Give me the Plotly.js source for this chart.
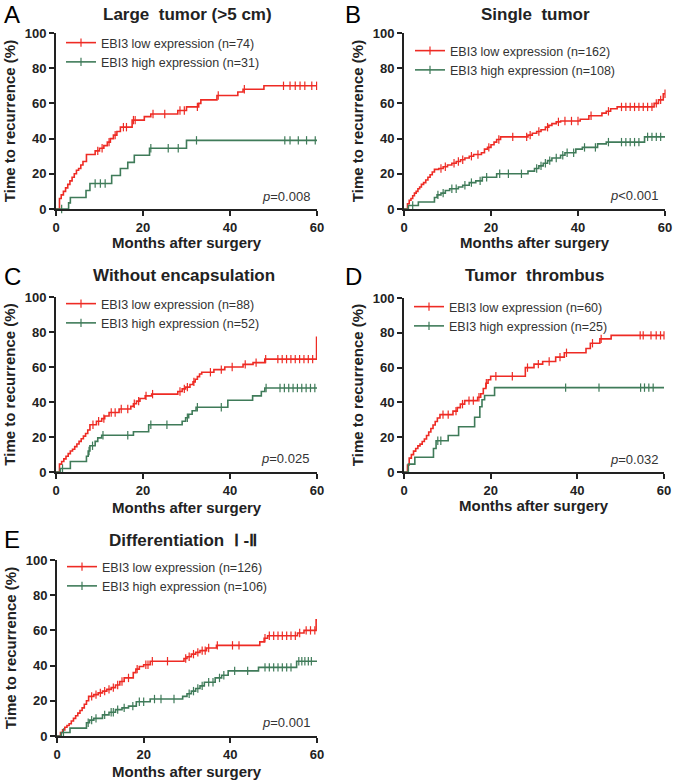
<!DOCTYPE html>
<html><head><meta charset="utf-8">
<script src="https://cdn.plot.ly/plotly-3.0.1.min.js"></script>
<style>body{margin:0;background:#fff}</style>
</head><body><div id="chart" style="width:677px;height:781px"></div>
<script>
// ---------------- DATA (months, cumulative recurrence %) ----------------
const panelLetters = ['A', 'B', 'C', 'D', 'E'];
const panelTitles = ['Large\u00a0 tumor (>5 cm)', 'Single\u00a0 tumor', 'Without encapsulation', 'Tumor\u00a0 thrombus', 'Differentiation\u00a0 \u2160 -\u2161'];
const pValues = ['<i>p</i>=0.008', '<i>p</i><0.001', '<i>p</i>=0.025', '<i>p</i>=0.032', '<i>p</i>=0.001'];
const lowNames = ['EBI3 low expression (n=74)', 'EBI3 low expression (n=162)', 'EBI3 low expression (n=88)', 'EBI3 low expression (n=60)', 'EBI3 low expression (n=126)'];
const highNames = ['EBI3 high expression (n=31)', 'EBI3 high expression (n=108)', 'EBI3 high expression (n=52)', 'EBI3 high expression (n=25)', 'EBI3 high expression (n=106)'];
const xAxisTitle = 'Months after surgery';
const yAxisTitle = 'Time to recurrence (%)';
const xTicks = [0, 20, 40, 60];
const yTicks = [0, 20, 40, 60, 80, 100];

// Panel A
const A_low_t = [0, 0.8, 1.2, 1.7, 2.2, 2.7, 3.2, 3.7, 4.2, 4.7, 5.2, 5.7, 6.2, 7.0, 9.0, 10.0, 11.0, 11.8, 12.5, 13.2, 14.0, 14.8, 17.5, 20.3, 21.8, 28.0, 30.0, 32.8, 33.3, 37.0, 41.8, 43.0, 47.8];
const A_low_v = [0, 6, 8, 10, 12, 14, 16, 18, 20, 22, 23, 25, 27, 31, 33, 34.5, 36, 38, 40, 42, 44, 46.5, 50.5, 52.5, 54, 56, 58, 60, 62, 64.5, 66.5, 68, 70];
const A_low_c = [9.6, 10.6, 12.2, 13.6, 15.5, 16.2, 17.8, 18.2, 22.3, 25.0, 28.5, 29.5, 32.5, 37.3, 43.3, 52.3, 53.8, 55.0, 56.1, 57.2, 58.8, 59.9];
const A_high_t = [0, 2.9, 3.3, 6.9, 7.8, 12.8, 14.8, 16.5, 18.0, 21.5, 30.0];
const A_high_v = [0, 3.5, 6.5, 10.5, 14.5, 19, 23, 26.5, 30.5, 34.5, 39];
const A_high_c = [1.3, 9.0, 10.2, 11.3, 21.8, 25.8, 28.1, 32.3, 52.6, 53.8, 55.7, 57.6, 59.6];

// Panel B
const B_low_t = [0, 0.8, 1.2, 1.6, 2.0, 2.4, 2.8, 3.2, 3.6, 4.0, 4.5, 5.0, 5.5, 6.0, 6.5, 7.0, 8.0, 9.0, 10.0, 11.0, 12.0, 13.0, 14.0, 15.0, 16.0, 17.8, 18.5, 19.2, 20.0, 20.7, 21.3, 22.2, 28.5, 29.5, 30.5, 31.5, 32.5, 33.3, 34.0, 35.0, 36.0, 40.5, 42.5, 45.5, 46.5, 47.5, 49.0, 57.5, 58.5, 59.6];
const B_low_v = [0, 3, 5, 6, 7.5, 9, 10, 11.5, 12.5, 14, 15, 16.5, 18, 19.5, 21, 22.5, 23, 24, 25, 26, 27, 28, 29, 30, 31, 32, 34, 35, 36.5, 38, 39.5, 41, 42, 43, 44, 45, 46.5, 47.5, 48.5, 49.5, 50, 51, 53, 54.5, 55.5, 57, 58, 60, 62, 65.5];
const B_low_c = [8.5, 9.5, 11.5, 12.5, 13.5, 15.5, 17.0, 19.5, 21.8, 25.0, 28.2, 29.0, 31.0, 33.0, 35.5, 37.0, 38.5, 40.0, 43.0, 47.0, 50.0, 51.0, 52.0, 53.0, 54.0, 55.0, 56.0, 57.0, 58.0, 59.0, 60.0];
const B_high_t = [0, 1.0, 3.3, 7.0, 7.6, 8.5, 9.5, 10.5, 12.5, 13.5, 15.0, 16.5, 18.0, 21.3, 28.5, 30.0, 31.0, 32.0, 33.0, 34.0, 36.0, 37.0, 39.5, 41.0, 44.5, 46.5, 55.3];
const B_high_v = [0, 2, 4, 6.5, 8, 9, 10.5, 11.5, 12.5, 13.5, 15, 16, 18, 20, 21.5, 23, 24.5, 26, 27.5, 29, 30.5, 32, 34, 35, 37, 38, 41];
const B_high_c = [2.0, 7.8, 9.0, 11.0, 12.0, 14.0, 15.5, 17.5, 19.0, 22.0, 24.0, 27.0, 30.5, 31.5, 32.5, 33.5, 35.0, 36.5, 37.5, 39.0, 41.5, 44.0, 47.0, 50.0, 51.0, 52.0, 53.0, 54.0, 56.0, 57.0, 58.0, 59.0];

// Panel C
const C_low_t = [0, 0.8, 1.3, 1.8, 2.3, 2.8, 3.3, 3.8, 4.3, 4.8, 5.3, 5.8, 6.3, 6.8, 7.3, 7.8, 9.3, 10.5, 11.2, 12.2, 14.5, 17.2, 17.8, 18.5, 19.3, 20.5, 22.0, 28.0, 29.0, 29.8, 30.8, 31.5, 32.0, 32.5, 33.0, 33.5, 36.3, 38.8, 43.0, 45.3, 48.0, 59.9];
const C_low_v = [0, 4.5, 6, 7.5, 9, 10.5, 12, 13, 14.5, 16, 17.5, 19, 20.5, 22, 24, 27, 29, 30.5, 32, 34, 36, 37.5, 39, 40.5, 42, 43.5, 44.5, 46, 47.5, 48.5, 50, 51.5, 53, 54.5, 56, 57, 58.5, 60, 61.5, 62.5, 64.5, 77];
const C_low_c = [8.5, 9.8, 11.0, 12.7, 13.6, 15.0, 16.5, 18.0, 19.0, 20.7, 22.2, 28.5, 29.5, 30.2, 31.7, 35.5, 38.0, 40.5, 43.5, 46.0, 48.2, 51.0, 52.0, 53.0, 54.0, 55.0, 56.0, 57.0, 58.0, 59.0];
const C_high_t = [0, 1.0, 3.3, 7.0, 7.4, 7.8, 9.0, 9.6, 10.5, 17.8, 21.3, 29.0, 29.8, 30.5, 31.3, 32.2, 39.5, 45.2, 47.2, 48.0];
const C_high_v = [0, 2, 6, 9, 12, 15, 17.5, 19.5, 21, 23, 27, 29, 31, 33, 35, 37, 41, 43.5, 46, 48];
const C_high_c = [1.5, 7.6, 8.4, 10.8, 16.5, 21.8, 25.5, 30.2, 32.5, 38.0, 48.3, 51.5, 52.5, 53.5, 54.5, 55.5, 56.5, 57.5, 58.5, 59.5];

// Panel D
const D_low_t = [0, 0.8, 1.2, 1.7, 2.2, 2.7, 3.2, 3.7, 4.2, 4.7, 5.2, 5.7, 6.2, 6.7, 7.2, 7.7, 8.3, 11.3, 12.3, 13.0, 14.0, 17.0, 17.7, 18.3, 18.9, 19.4, 20.0, 28.0, 30.0, 32.0, 35.0, 37.0, 42.0, 43.0, 45.2, 47.8];
const D_low_v = [0, 4, 8, 10, 12, 13.5, 15, 16, 17.5, 19, 21, 23, 25, 27, 29, 31, 33, 35, 37, 39, 41, 43, 45, 48, 51, 53, 55, 60, 62, 63.5, 66, 68.5, 71, 74, 76.5, 78.5];
const D_low_c = [9.0, 10.2, 12.0, 13.5, 15.0, 16.0, 17.3, 19.0, 21.2, 25.0, 28.5, 31.0, 33.5, 36.0, 37.5, 43.5, 45.5, 54.5, 55.2, 57.0, 58.2, 59.2, 60.0];
const D_high_t = [0, 1.0, 2.5, 6.8, 7.4, 10.2, 12.6, 16.3, 17.5, 18.0, 18.6, 20.9];
const D_high_v = [0, 4.5, 8.5, 13.5, 18, 21, 26, 31.5, 37.5, 41.5, 44, 48.5];
const D_high_c = [7.8, 8.5, 37.3, 45.0, 54.6, 55.5, 56.5, 57.5];

// Panel E
const E_low_t = [0, 0.8, 1.3, 1.8, 2.3, 2.8, 3.3, 3.8, 4.3, 4.8, 5.3, 5.8, 6.3, 6.8, 7.3, 8.5, 9.5, 10.5, 11.5, 12.5, 13.5, 14.5, 15.5, 17.6, 18.2, 19.0, 20.0, 21.5, 29.3, 30.0, 31.0, 32.0, 33.0, 34.5, 36.8, 46.8, 47.8, 48.6, 55.5, 57.0, 59.8];
const E_low_v = [0, 2, 3.5, 5, 6, 7, 8.5, 10, 11.5, 13, 14.5, 16, 18, 20, 22.5, 23.5, 24.5, 25.5, 26.5, 27.5, 29, 31, 33, 36, 38, 39.5, 40.5, 42.5, 44, 45, 46.5, 47.5, 48.5, 50, 51.5, 53.5, 55.5, 57, 58.5, 60, 66];
const E_low_c = [8.0, 9.0, 10.0, 11.0, 12.0, 13.0, 14.0, 15.0, 16.5, 18.5, 20.5, 21.0, 22.0, 25.5, 29.7, 30.5, 31.5, 32.5, 33.5, 34.2, 35.0, 37.0, 40.5, 42.0, 48.0, 49.0, 50.0, 51.0, 52.0, 53.0, 54.0, 55.0, 56.0, 57.5, 58.5, 59.5];
const E_high_t = [0, 1.0, 3.0, 6.8, 7.5, 8.5, 10.5, 12.0, 13.5, 15.0, 16.5, 18.3, 21.5, 29.0, 30.0, 31.0, 32.0, 33.0, 34.0, 36.5, 38.0, 39.5, 46.5, 55.3];
const E_high_v = [0, 2, 4.5, 7.5, 9, 10, 12, 13.5, 15, 16, 17, 19.5, 21, 22.5, 24, 25.5, 27, 28.5, 30.5, 33, 34.5, 37, 39, 42.5];
const E_high_c = [1.5, 7.2, 8.0, 9.0, 11.0, 12.5, 13.0, 14.0, 15.5, 17.5, 19.0, 20.0, 22.5, 24.0, 27.0, 30.5, 31.5, 32.5, 33.5, 35.0, 36.0, 37.5, 38.5, 41.0, 44.0, 48.0, 49.0, 50.0, 51.0, 52.0, 53.0, 54.0, 55.8, 56.5, 57.2, 58.0, 58.7];

const lowSeries = [[A_low_t, A_low_v, A_low_c], [B_low_t, B_low_v, B_low_c], [C_low_t, C_low_v, C_low_c], [D_low_t, D_low_v, D_low_c], [E_low_t, E_low_v, E_low_c]];
const highSeries = [[A_high_t, A_high_v, A_high_c], [B_high_t, B_high_v, B_high_c], [C_high_t, C_high_v, C_high_c], [D_high_t, D_high_v, D_high_c], [E_high_t, E_high_v, E_high_c]];

// ---------------- LAYOUT / STYLE ----------------
const W = 677, H = 781;
const RED = '#ee2b24', GREEN = '#3f7b59', INK = '#222222';
const FONT = 'Liberation Sans, Arial, Helvetica, sans-serif';
// plot boxes in px: [left, right, top, bottom]
const boxes = [[56, 317, 33, 209], [404, 665, 33, 209], [56, 317, 297, 472], [404, 664, 298, 472], [57, 317, 560, 736]];
const legendPos = [[61, 28], [410, 36], [61, 289], [409, 292], [62, 552]];
const letterPos = [[2, 15], [343, 15], [2, 276], [343, 276], [2, 539]];
const titlePos = [[187, 15], [535, 15], [184, 275], [534, 275], [183, 540]];
const xTitlePos = [[187, 243], [535, 242], [187, 507], [534, 505], [187, 771]];
const pPos = [[312, 197], [660, 195], [311, 458], [660, 459], [312, 722]];

function stepAt(ts, vs, t) {
  let v = vs[0];
  for (let i = 0; i < ts.length; i++) { if (ts[i] <= t) v = vs[i]; }
  return v;
}

const px = x => x / W, py = y => 1 - y / H;
const data = [];
const layout = {
  width: W, height: H, margin: {l: 0, r: 0, t: 0, b: 0},
  paper_bgcolor: '#ffffff', plot_bgcolor: 'rgba(0,0,0,0)',
  font: {family: FONT, color: INK},
  hovermode: false, showlegend: true, annotations: []
};

boxes.forEach((b, i) => {
  const n = i + 1, xa = 'x' + (n === 1 ? '' : n), ya = 'y' + (n === 1 ? '' : n);
  const lg = 'legend' + (n === 1 ? '' : n);
  const axBase = {
    showline: true, linewidth: 2, linecolor: INK, mirror: false,
    ticks: 'outside', ticklen: 5, tickwidth: 2, tickcolor: INK,
    showgrid: false, zeroline: false, automargin: false,
    tickfont: {family: FONT, size: 13, color: INK, weight: 'bold'}
  };
  layout['xaxis' + (n === 1 ? '' : n)] = Object.assign({}, axBase, {
    domain: [px(b[0]), px(b[1])], range: [0, 60], tickvals: xTicks, anchor: ya
  });
  layout['yaxis' + (n === 1 ? '' : n)] = Object.assign({}, axBase, {
    domain: [py(b[3]), py(b[2])], range: [0, 100], tickvals: yTicks, anchor: xa,
    title: {text: yAxisTitle, font: {family: FONT, size: 15, color: INK, weight: 'bold'}}
  });
  layout[lg] = {
    x: px(legendPos[i][0]), y: py(legendPos[i][1]), xanchor: 'left', yanchor: 'top',
    bgcolor: 'rgba(0,0,0,0)', borderwidth: 0, itemwidth: 30, tracegroupgap: 0,
    font: {family: FONT, size: 12.5, color: '#333'}
  };
  [[lowSeries[i], RED, lowNames[i]], [highSeries[i], GREEN, highNames[i]]].forEach(([s, col, name]) => {
    const [ts, vs, cs] = s;
    data.push({type: 'scatter', mode: 'lines', x: ts.concat([60]), y: vs.concat([vs[vs.length - 1]]),
      line: {color: col, width: 1.6, shape: 'hv'}, xaxis: xa, yaxis: ya, showlegend: false});
    data.push({type: 'scatter', mode: 'markers', x: cs, y: cs.map(t => stepAt(ts, vs, t)), cliponaxis: false,
      marker: {symbol: 'line-ns', size: 6, color: col, line: {color: col, width: 1.2}},
      xaxis: xa, yaxis: ya, showlegend: false});
    data.push({type: 'scatter', mode: 'lines+markers', x: [null], y: [null], name: name, legend: lg,
      line: {color: col, width: 1.6},
      marker: {symbol: 'line-ns', size: 6, color: col, line: {color: col, width: 1.2}},
      xaxis: xa, yaxis: ya, showlegend: true});
  });
  layout.annotations.push({xref: 'paper', yref: 'paper', x: px(letterPos[i][0]), y: py(letterPos[i][1]),
    xanchor: 'left', yanchor: 'middle', showarrow: false, text: panelLetters[i],
    font: {family: FONT, size: 24, color: '#000'}});
  layout.annotations.push({xref: 'paper', yref: 'paper', x: px(titlePos[i][0]), y: py(titlePos[i][1]),
    xanchor: 'center', yanchor: 'middle', showarrow: false, text: panelTitles[i],
    font: {family: FONT, size: 17, color: INK, weight: 'bold'}});
  layout.annotations.push({xref: 'paper', yref: 'paper', x: px(xTitlePos[i][0]), y: py(xTitlePos[i][1]),
    xanchor: 'center', yanchor: 'middle', showarrow: false, text: xAxisTitle,
    font: {family: FONT, size: 15, color: INK, weight: 'bold'}});
  layout.annotations.push({xref: 'paper', yref: 'paper', x: px(pPos[i][0]), y: py(pPos[i][1]),
    xanchor: 'right', yanchor: 'middle', showarrow: false, text: pValues[i],
    font: {family: FONT, size: 13, color: '#333'}});
});

Plotly.newPlot('chart', data, layout, {staticPlot: true, displayModeBar: false});
</script>
</body></html>
